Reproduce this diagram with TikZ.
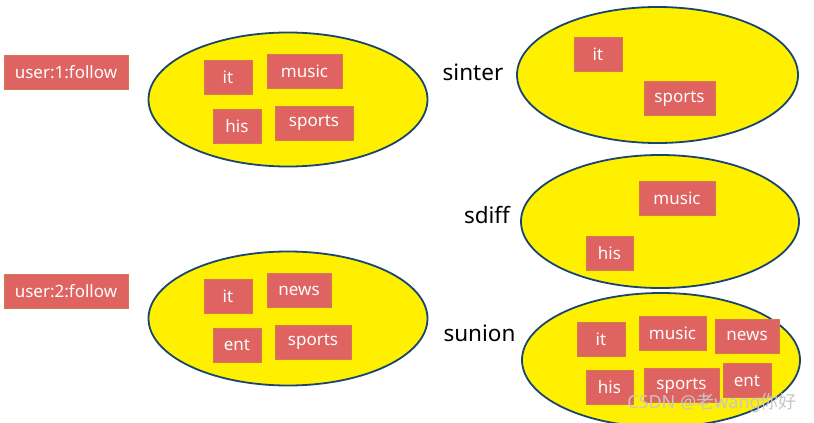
\documentclass[tikz,border=0pt]{standalone}
\usepackage{fontspec}
\setmainfont{Noto Sans}
\newfontfamily\cjkwm{Noto Sans CJK SC}
\usetikzlibrary{shapes.geometric}
\definecolor{boxred}{RGB}{222,99,97}
\definecolor{boxedge}{RGB}{214,120,80}
\definecolor{setyellow}{RGB}{255,240,0}
\definecolor{setedge}{RGB}{25,70,110}
\tikzset{
  tag/.style={rectangle, fill=boxred, draw=boxedge, line width=0.5pt, text=white,
    font=\fontsize{17}{20}\selectfont, minimum height=34, inner sep=0pt},
  setshape/.style={ellipse, fill=setyellow, draw=setedge, line width=1.8pt,
    minimum width=279, minimum height=134, inner sep=0pt},
  oplabel/.style={text=black, font=\fontsize{22.5}{26}\selectfont, inner sep=0pt},
}
\begin{document}
\begin{tikzpicture}[x=1pt,y=-1pt]
\useasboundingbox (0,0) rectangle (814,423);
\clip (0,0) rectangle (814,423);
\fill[white] (0,0) rectangle (814,423);

% left side
\node[tag, minimum width=124] (u1) at (66,72) {user:1:follow};
\node[tag, minimum width=124] (u2) at (66,291.5) {user:2:follow};

\node[setshape] (s1) at (288,99.5) {};
\node[tag, minimum width=48] (s1it) at (228,77.5) {it};
\node[tag, minimum width=75] (s1music) at (304.5,71) {music};
\node[tag, minimum width=48] (s1his) at (237,126) {his};
\node[tag, minimum width=78] (s1sports) at (314,123) {sports};

\node[setshape] (s2) at (288,318.5) {};
\node[tag, minimum width=48] (s2it) at (228,296.5) {it};
\node[tag, minimum width=64] (s2news) at (299,290.5) {news};
\node[tag, minimum width=48] (s2ent) at (237,345) {ent};
\node[tag, minimum width=76] (s2sports) at (313,342) {sports};

% right side
\node[oplabel] (inter) at (473,72) {sinter};
\node[setshape, minimum width=281, minimum height=136] (s3) at (657.5,75) {};
\node[tag, minimum width=48] (s3it) at (598,54) {it};
\node[tag, minimum width=71] (s3sports) at (679.5,98.5) {sports};

\node[oplabel] (diff) at (487,215) {sdiff};
\node[setshape, minimum width=278, minimum height=133] (s4) at (660,221.5) {};
\node[tag, minimum width=76] (s4music) at (677,198) {music};
\node[tag, minimum width=47] (s4his) at (609.5,253) {his};

\node[oplabel] (union) at (479.5,333) {sunion};
\node[setshape, minimum width=278, minimum height=134] (s5) at (661,360) {};
\node[tag, minimum width=48] (s5it) at (601,339) {it};
\node[tag, minimum width=67] (s5music) at (672.5,333) {music};
\node[tag, minimum width=64] (s5news) at (747,336) {news};
\node[tag, minimum width=47] (s5his) at (609.5,387) {his};
\node[tag, minimum width=75] (s5sports) at (681.5,385.5) {sports};
\node[tag, minimum width=48] (s5ent) at (747,380.5) {ent};

% watermark
\node[text=black!22, font=\fontsize{18}{20}\selectfont, inner sep=0pt] (wm) at (712,403) {CSDN @{\cjkwm 老}wang{\cjkwm 你好}};
\end{tikzpicture}
\end{document}
